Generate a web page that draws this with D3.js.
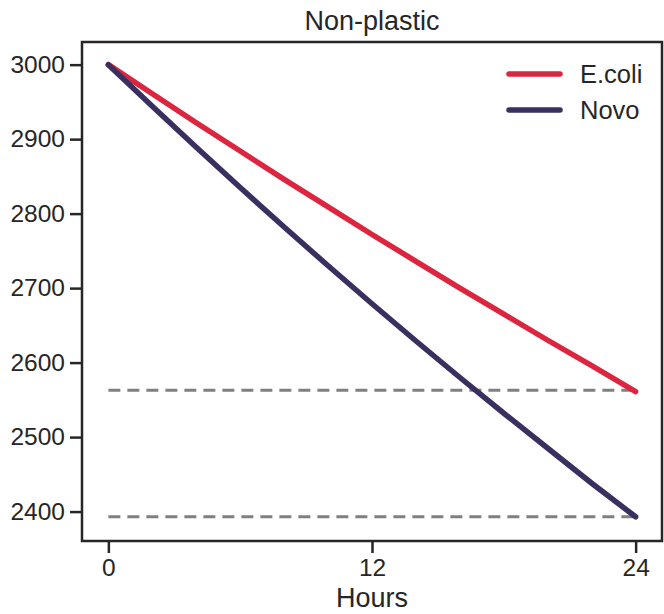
<!DOCTYPE html>
<html>
<head>
<meta charset="utf-8">
<script src="https://cdn.jsdelivr.net/npm/d3@7"></script>
<style>
  html, body { margin: 0; padding: 0; background: #fff; }
  svg { display: block; font-family: "Liberation Sans", Arial, Helvetica, sans-serif; }
</style>
</head>
<body>
<svg id="chart" width="664" height="614"></svg>
<script>
// Measurements over 24 hours (non-plastic condition)
const hours = [0, 2, 4, 6, 8, 10, 12, 14, 16, 18, 20, 22, 24];
const ecoli = [3000, 2961, 2922, 2884, 2846, 2809, 2772, 2736, 2700, 2665, 2630, 2596, 2561];
const novo  = [3000, 2944, 2889, 2835, 2782, 2730, 2679, 2629, 2580, 2532, 2485, 2438, 2393];
const seriesNames = ["E.coli", "Novo"];
const seriesColors = ["#dc2640", "#3a3060"];
// Horizontal reference levels (final values)
const refLevels = [2563, 2393];
const xTicks = [0, 12, 24];
const yTicks = [2400, 2500, 2600, 2700, 2800, 2900, 3000];

const svg = d3.select("#chart");
const plotLeft = 82, plotRight = 662, plotTop = 42, plotBottom = 541;
const ink = "#262626";

const x = d3.scaleLinear().domain([-1.2, 25.2]).range([plotLeft, plotRight]);
const y = d3.scaleLinear().domain([2360.5, 3030.4]).range([plotBottom, plotTop]);

// Reference dashed lines
svg.append("g").selectAll("line").data(refLevels).join("line")
  .attr("x1", x(0)).attr("x2", x(24))
  .attr("y1", d => y(d)).attr("y2", d => y(d))
  .attr("stroke", "#808080").attr("stroke-width", 3)
  .attr("stroke-dasharray", "12,7");

// Data lines
const line = d3.line().x(d => x(d[0])).y(d => y(d[1]));
const series = [ecoli, novo];
series.forEach((vals, i) => {
  svg.append("path")
    .datum(hours.map((h, j) => [h, vals[j]]))
    .attr("d", line)
    .attr("fill", "none")
    .attr("stroke", seriesColors[i])
    .attr("stroke-width", 5.5)
    .attr("stroke-linecap", "round")
    .attr("stroke-linejoin", "round");
});

// Axes
const xAxis = svg.append("g").attr("transform", `translate(0,${plotBottom})`)
  .call(d3.axisBottom(x).tickValues(xTicks).tickSize(12).tickPadding(6).tickFormat(d3.format("d")));
const yAxis = svg.append("g").attr("transform", `translate(${plotLeft},0)`)
  .call(d3.axisLeft(y).tickValues(yTicks).tickSize(12).tickPadding(5).tickFormat(d3.format("d")));

[xAxis, yAxis].forEach(g => {
  g.select(".domain").remove();
  g.selectAll(".tick line").attr("stroke", ink).attr("stroke-width", 2.5);
  g.selectAll(".tick text").attr("fill", ink).style("font-size", "24.5px")
    .style("font-family", "'Liberation Sans', Arial, sans-serif");
});

// Frame
svg.append("rect")
  .attr("x", plotLeft).attr("y", plotTop)
  .attr("width", plotRight - plotLeft).attr("height", plotBottom - plotTop)
  .attr("fill", "none").attr("stroke", ink).attr("stroke-width", 2.5);

// Title and axis label
svg.append("text")
  .attr("x", (plotLeft + plotRight) / 2).attr("y", 30)
  .attr("text-anchor", "middle").attr("fill", ink)
  .style("font-size", "27px").text("Non-plastic");

svg.append("text")
  .attr("x", (plotLeft + plotRight) / 2).attr("y", 607)
  .attr("text-anchor", "middle").attr("fill", ink)
  .style("font-size", "27px").text("Hours");

// Legend
const legend = svg.append("g");
seriesNames.forEach((name, i) => {
  const ly = 74 + i * 36;
  legend.append("line")
    .attr("x1", 509).attr("x2", 560).attr("y1", ly).attr("y2", ly)
    .attr("stroke", seriesColors[i]).attr("stroke-width", 5.5)
    .attr("stroke-linecap", "round");
  legend.append("text")
    .attr("x", 580).attr("y", ly + 9)
    .attr("fill", ink).style("font-size", "25.5px").text(name);
});
</script>
</body>
</html>
